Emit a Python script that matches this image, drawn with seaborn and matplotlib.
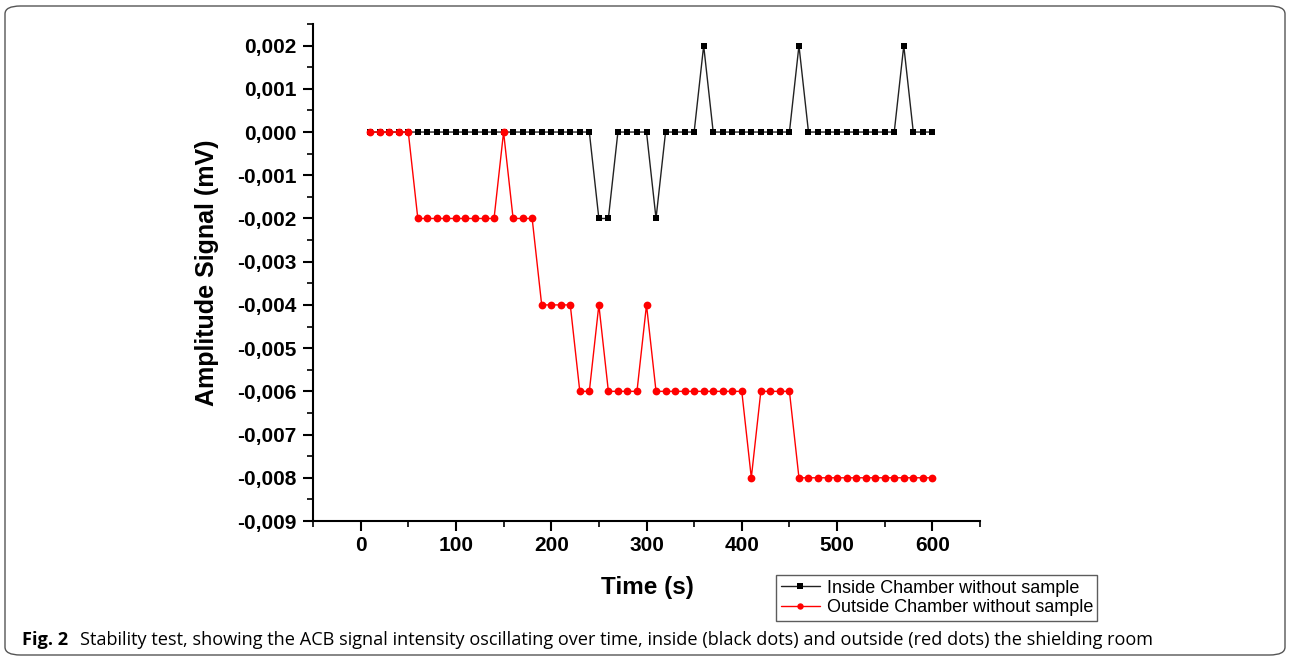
import matplotlib
matplotlib.use("Agg")
import matplotlib.pyplot as plt
from matplotlib.patches import FancyBboxPatch
from matplotlib.ticker import MultipleLocator, FixedLocator
import seaborn as sns
import pandas as pd

# ---- data ----
time_s = [10, 20, 30, 40, 50, 60, 70, 80, 90, 100,
          110, 120, 130, 140, 150, 160, 170, 180, 190, 200,
          210, 220, 230, 240, 250, 260, 270, 280, 290, 300,
          310, 320, 330, 340, 350, 360, 370, 380, 390, 400,
          410, 420, 430, 440, 450, 460, 470, 480, 490, 500,
          510, 520, 530, 540, 550, 560, 570, 580, 590, 600]
inside = [0, 0, 0, 0, 0, 0, 0, 0, 0, 0,
          0, 0, 0, 0, 0, 0, 0, 0, 0, 0,
          0, 0, 0, 0, -0.002, -0.002, 0, 0, 0, 0,
          -0.002, 0, 0, 0, 0, 0.002, 0, 0, 0, 0,
          0, 0, 0, 0, 0, 0.002, 0, 0, 0, 0,
          0, 0, 0, 0, 0, 0, 0.002, 0, 0, 0]
outside = [0, 0, 0, 0, 0, -0.002, -0.002, -0.002, -0.002, -0.002,
           -0.002, -0.002, -0.002, -0.002, 0, -0.002, -0.002, -0.002, -0.004, -0.004,
           -0.004, -0.004, -0.006, -0.006, -0.004, -0.006, -0.006, -0.006, -0.006, -0.004,
           -0.006, -0.006, -0.006, -0.006, -0.006, -0.006, -0.006, -0.006, -0.006, -0.006,
           -0.008, -0.006, -0.006, -0.006, -0.006, -0.008, -0.008, -0.008, -0.008, -0.008,
           -0.008, -0.008, -0.008, -0.008, -0.008, -0.008, -0.008, -0.008, -0.008, -0.008]
series_names = ["Inside Chamber without sample", "Outside Chamber without sample"]
x_ticks = [0, 100, 200, 300, 400, 500, 600]
y_ticks = [0.002, 0.001, 0.0, -0.001, -0.002, -0.003, -0.004, -0.005,
           -0.006, -0.007, -0.008, -0.009]
y_tick_labels = ["0,002", "0,001", "0,000", "-0,001", "-0,002", "-0,003", "-0,004",
                 "-0,005", "-0,006", "-0,007", "-0,008", "-0,009"]
caption_bold = "Fig. 2"
caption_text = "Stability test, showing the ACB signal intensity oscillating over time, inside (black dots) and outside (red dots) the shielding room"

df_in = pd.DataFrame({"t": time_s, "v": inside})
df_out = pd.DataFrame({"t": time_s, "v": outside})

sns.set_style("ticks")
plt.rcParams["font.family"] = ["Liberation Sans", "DejaVu Sans"]
plt.rcParams["text.color"] = "black"
plt.rcParams["axes.labelcolor"] = "black"
plt.rcParams["xtick.color"] = "black"
plt.rcParams["ytick.color"] = "black"

W, H = 1290, 661
fig = plt.figure(figsize=(W / 100, H / 100), dpi=100)
ax_l, ax_r, ax_t, ax_b = 313, 980, 24, 521
ax = fig.add_axes([ax_l / W, 1 - ax_b / H, (ax_r - ax_l) / W, (ax_b - ax_t) / H])

sns.lineplot(data=df_in, x="t", y="v", ax=ax, color="black", marker="s",
             markersize=4.8, markeredgewidth=0, linewidth=1.0,
             label=series_names[0], zorder=3)
sns.lineplot(data=df_out, x="t", y="v", ax=ax, color="#ff0000", marker="o",
             markersize=5.6, markeredgewidth=0, linewidth=1.0,
             label=series_names[1], zorder=4)
for ln in ax.lines:
    if ln.get_color() == "black":
        ln.set_color("#222222")
        ln.set_markerfacecolor("black")

ax.set_xlim(-50, 650)
ax.set_ylim(-0.009, 0.0025)
ax.xaxis.set_major_locator(FixedLocator(x_ticks))
ax.xaxis.set_minor_locator(MultipleLocator(50))
ax.yaxis.set_major_locator(FixedLocator(y_ticks))
ax.set_yticklabels(y_tick_labels)
ax.yaxis.set_minor_locator(MultipleLocator(0.0005))
for s in ["top", "right"]:
    ax.spines[s].set_visible(False)
for s in ["left", "bottom"]:
    ax.spines[s].set_linewidth(1.5)
    ax.spines[s].set_color("black")
ax.tick_params(which="major", direction="out", length=7, width=1.5, colors="black",
               labelsize=15)
ax.tick_params(which="minor", direction="out", length=4, width=1.2, colors="black")
ax.tick_params(axis="y", which="major", pad=5)
ax.tick_params(axis="x", which="major", pad=4)
for lab in ax.get_xticklabels() + ax.get_yticklabels():
    lab.set_fontweight("bold")
    lab.set_color("black")
ax.set_xlabel("Time (s)", fontsize=17.5, fontweight="bold", color="black")
ax.set_ylabel("Amplitude Signal (mV)", fontsize=18, fontweight="bold", color="black")
ax.xaxis.set_label_coords((647 - ax_l) / (ax_r - ax_l), -(576 - ax_b) / (ax_b - ax_t))
ax.yaxis.set_label_coords(-(ax_l - 219) / (ax_r - ax_l), 0.5)

leg = ax.legend(loc="lower left", bbox_to_anchor=(776 / W, 1 - 621 / H),
                bbox_transform=fig.transFigure, frameon=True, fancybox=False,
                fontsize=13, borderpad=0.25, labelspacing=0.15, handlelength=2.2,
                handletextpad=0.35, borderaxespad=0)
leg.get_frame().set_edgecolor("#333333")
leg.get_frame().set_linewidth(1.0)
for h, ms in zip(leg.legend_handles, [3.8, 4.6]):
    h.set_markersize(ms)
for t in leg.get_texts():
    t.set_color("black")

# frame and caption
border = FancyBboxPatch((5 / W, 6 / H), 1280 / W, 649 / H,
                        boxstyle="round,pad=0,rounding_size=0.012",
                        transform=fig.transFigure, fill=False,
                        edgecolor="#555555", linewidth=1.0)
fig.patches.append(border)
t1 = fig.text(22 / W, 1 - 645 / H, caption_bold, fontsize=13.1, fontweight="bold",
              family=["Open Sans", "DejaVu Sans"], va="baseline", ha="left",
              color="black")
fig.canvas.draw()
bb = t1.get_window_extent()
fig.text((bb.x1 + 12) / W, 1 - 645 / H, caption_text, fontsize=13.1,
         family=["Open Sans", "DejaVu Sans"], va="baseline", ha="left",
         color="black")

fig.savefig("out.png", dpi=100)
